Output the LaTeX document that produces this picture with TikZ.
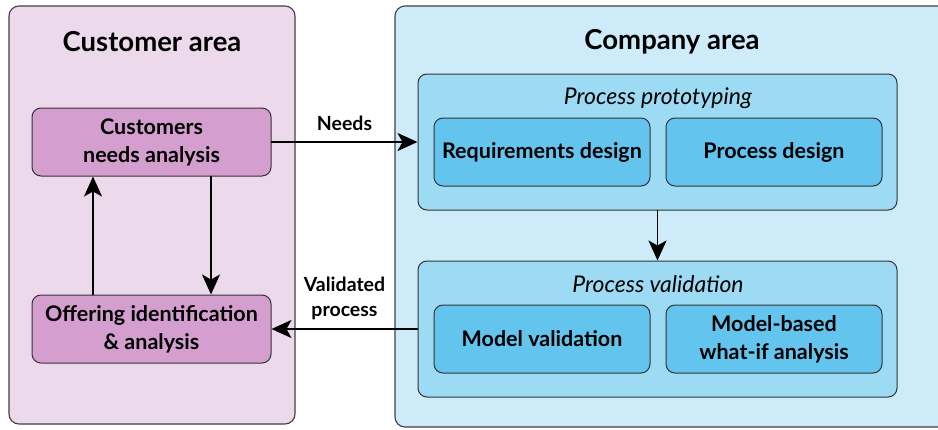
\documentclass[tikz,border=0pt]{standalone}
\usepackage{fontspec}
\setmainfont{Lato}
\usetikzlibrary{arrows.meta}
\definecolor{custbg}{HTML}{EDD9EC}
\definecolor{custbox}{HTML}{D49FCF}
\definecolor{compbg}{HTML}{CDEBF8}
\definecolor{groupbg}{HTML}{9DDAF3}
\definecolor{stepbg}{HTML}{63C4EE}
\begin{document}
\begin{tikzpicture}[x=1pt, y=-1pt, line join=round, line cap=round,
    area/.style={draw=black!75, line width=1.1pt, rounded corners=10pt},
    title/.style={font=\bfseries\fontsize{27.5}{30}\selectfont},
    custnode/.style={draw=black!80, fill=custbox, line width=1pt, rounded corners=9pt,
        minimum width=239pt, minimum height=68pt, align=center, inner sep=1pt,
        font=\bfseries\fontsize{21.5}{28}\selectfont},
    group/.style={draw=black!80, fill=groupbg, line width=1pt, rounded corners=9pt,
        minimum width=479pt, minimum height=136pt},
    grouptitle/.style={font=\itshape\fontsize{23}{26}\selectfont},
    stepnode/.style={draw=black!80, fill=stepbg, line width=1pt, rounded corners=9pt,
        minimum width=216pt, minimum height=68pt, align=center, inner sep=1pt,
        font=\bfseries\fontsize{21.5}{28}\selectfont},
    flowlabel/.style={align=center, font=\bfseries\fontsize{19.5}{25}\selectfont},
    arr/.style={line width=1.9pt, -{Stealth[length=20pt, width=18pt, inset=5pt]}}]
    \path[use as bounding box, clip] (0,0) rectangle (938,429);

    % the two areas
    \fill[white] (0,0) rectangle (938,429);
    \draw[area, fill=custbg] (9,6) rectangle (295,424);
    \draw[area, fill=compbg] (395,6) rectangle (960,427);
    \node[title] (custtitle) at (152,42) {Customer area};
    \node[title] (comptitle) at (672,42) {Company area};

    % customer side
    \node[custnode] (needs) at (151.5,142) {Customers\\needs analysis};
    \node[custnode] (offer) at (151.5,329) {Offering identification\\\& analysis};

    % company side
    \node[group] (proto) at (657.5,142) {};
    \node[grouptitle] (prototitle) at (658,98) {Process prototyping};
    \node[stepnode] (reqs) at (542,152) {Requirements design};
    \node[stepnode] (pdesign) at (774,152) {Process design};

    \node[group] (valid) at (657.5,329) {};
    \node[grouptitle] (validtitle) at (658,284) {Process validation};
    \node[stepnode] (mvalid) at (542,339) {Model validation};
    \node[stepnode] (whatif) at (774,339) {Model-based\\what-if analysis};

    % flows
    \draw[arr] (needs.south -| 211,0) -- (offer.north -| 211,0);
    \draw[arr] (offer.north -| 93,0) -- (needs.south -| 93,0);
    \draw[arr] (needs.east) -- (proto.west)
        node[flowlabel, midway, above=7pt] (needslabel) {Needs};
    \draw[arr] (proto.south) -- (valid.north);
    \draw[arr] (valid.west) -- (offer.east)
        node[flowlabel, midway, above=5pt] (validlabel) {Validated\\process};
\end{tikzpicture}
\end{document}
